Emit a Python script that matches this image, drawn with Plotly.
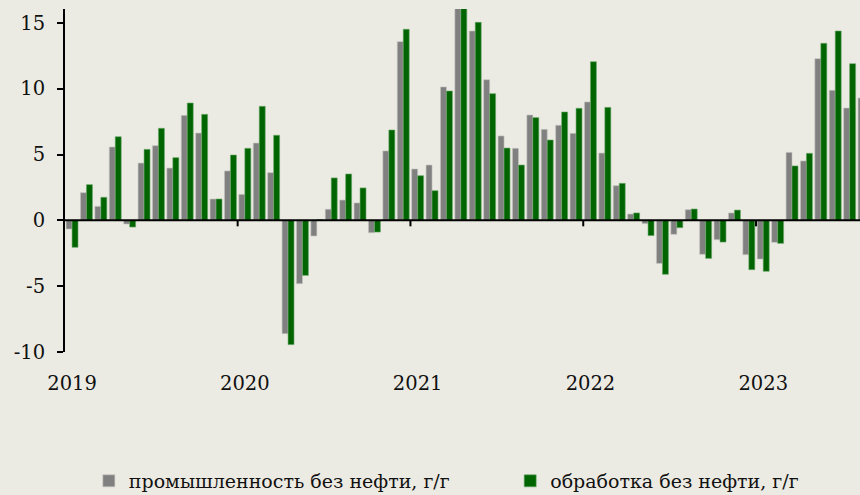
import plotly.graph_objects as go

# Monthly data, Jan 2019 .. Aug 2023 (y/y, %)
months = [f"{y}-{m:02d}" for y in range(2019, 2024) for m in range(1, 13)][:56]
industry = [-0.66, 2.10, 1.06, 5.57, -0.28, 4.35, 5.67, 3.97, 7.97, 6.63, 1.62, 3.75,
            1.97, 5.87, 3.62, -8.61, -4.81, -1.19, 0.84, 1.54, 1.32, -0.94, 5.27, 13.57,
            3.90, 4.20, 10.13, 17.0, 14.38, 10.68, 6.41, 5.47, 8.00, 6.91, 7.22, 6.61,
            8.99, 5.11, 2.63, 0.48, -0.25, -3.27, -1.06, 0.81, -2.58, -1.47, 0.56, -2.61,
            -2.94, -1.67, 5.16, 4.51, 12.28, 9.87, 8.53, 9.29]
manufacturing = [-2.05, 2.71, 1.75, 6.35, -0.51, 5.39, 6.99, 4.76, 8.91, 8.05, 1.62, 4.96,
                 5.47, 8.66, 6.46, -9.44, -4.18, 0.05, 3.22, 3.52, 2.46, -0.89, 6.86, 14.51,
                 3.39, 2.25, 9.82, 17.8, 15.04, 9.62, 5.49, 4.20, 7.80, 6.10, 8.23, 8.51,
                 12.05, 8.58, 2.81, 0.56, -1.16, -4.10, -0.56, 0.86, -2.89, -1.65, 0.78, -3.75,
                 -3.87, -1.75, 4.13, 5.09, 13.44, 14.38, 11.90, None]
series_names = ["промышленность без нефти, г/г", "обработка без нефти, г/г"]
year_labels = ["2019", "2020", "2021", "2022", "2023"]
y_ticks = [-10, -5, 0, 5, 10, 15]
y_ticktext = ["-10", "-5", "0", "5", "10", "15"]

x = list(range(len(months)))
year_pos = [months.index(f"{y}-01") for y in year_labels]
year_bounds = [p - 0.5 for p in year_pos[1:]]

BG = "#ECEBE3"
FONT = "DejaVu Serif"
xr = [-0.49, 54.72]
yr = [-10, 16.05]

fig = go.Figure()
fig.add_trace(go.Bar(x=x, y=industry, name=series_names[0], customdata=months,
                     legend="legend",
                     marker=dict(color="#808080", line=dict(color="#c4c4c0", width=0.6))))
fig.add_trace(go.Bar(x=x, y=manufacturing, name=series_names[1], customdata=months,
                     legend="legend2",
                     marker=dict(color="#006400", line=dict(color="#6aa86a", width=0.6))))

# zero axis line with year-boundary ticks (axis decoration)
fig.add_shape(type="line", xref="paper", x0=0, x1=1, yref="y", y0=0, y1=0,
              line=dict(color="#000000", width=2), layer="above")
for b in year_bounds:
    fig.add_shape(type="line", xref="x", x0=b, x1=b, yref="y", ysizemode="pixel",
                  yanchor=0, y0=0, y1=-6, line=dict(color="#000000", width=2), layer="above")

leg_font = dict(family=FONT, size=19, color="#111111")

fig.update_layout(
    width=860, height=495,
    margin=dict(l=65, r=0, t=9, b=143, autoexpand=False),
    paper_bgcolor=BG, plot_bgcolor=BG,
    font=dict(family=FONT, size=18, color="#111111"),
    barmode="group", bargap=0.17, bargroupgap=0,
    showlegend=True,
    legend=dict(orientation="h", x=0.030, xanchor="left", y=-0.376, yanchor="middle",
                font=leg_font, bgcolor="rgba(0,0,0,0)", itemwidth=30),
    legend2=dict(orientation="h", x=0.560, xanchor="left", y=-0.376, yanchor="middle",
                 font=leg_font, bgcolor="rgba(0,0,0,0)", itemwidth=30),
    xaxis=dict(range=xr, tickvals=year_pos, ticktext=year_labels, showline=False,
               showgrid=False, zeroline=False, ticks="", ticklabelstandoff=17,
               tickfont=dict(family=FONT, size=19.5)),
    yaxis=dict(range=yr, tickvals=y_ticks, ticktext=y_ticktext, showline=True,
               linecolor="#000000", linewidth=2, ticks="outside", ticklen=6, tickwidth=2,
               tickcolor="#000000", showgrid=False, zeroline=False, ticklabelstandoff=8,
               tickfont=dict(family=FONT, size=19.5)),
)

fig.write_html("out.html", config={"displayModeBar": False},
               post_script="document.body.style.margin='0';")
